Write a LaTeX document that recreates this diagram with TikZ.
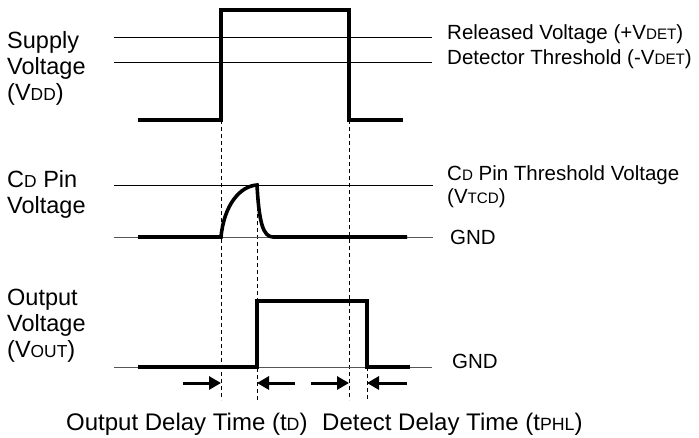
\documentclass[tikz,border=0pt]{standalone}
\usepackage{fontspec}
\setmainfont{Liberation Sans}
\usepackage{graphicx}
\usetikzlibrary{arrows.meta}
\definecolor{gndgray}{RGB}{85,85,85}
\newcommand\lo[1]{\scalebox{0.74}{#1}}
\tikzset{
  wave/.style={line width=3.6pt, line join=miter},
  level/.style={line width=1pt},
  gndlevel/.style={line width=1pt, gndgray},
  guide/.style={line width=0.8pt, dash pattern=on 4pt off 3pt},
  dim/.style={-{Triangle[length=12pt,width=13pt]}, line width=3pt},
  lbl/.style={inner sep=0pt, align=left, font=\fontsize{23.5}{26}\selectfont},
  rlbl/.style={inner sep=0pt, align=left, font=\fontsize{20.5}{23}\selectfont},
  blbl/.style={inner sep=0pt, font=\fontsize{24}{28}\selectfont},
}
\begin{document}
\begin{tikzpicture}[x=1pt,y=-1pt]
  \useasboundingbox (0,0) rectangle (699,437);
  % time marks
  \draw[guide] (221,120) -- (221,400);
  \draw[guide] (257,186) -- (257,400);
  \draw[guide] (349,120) -- (349,400);
  \draw[guide] (367,367) -- (367,400);
  % supply voltage
  \node[lbl,anchor=north west](vdd) at (7,31) {Supply\\Voltage\\(V\lo{DD})};
  \draw[level] (114,37) -- (432,37);
  \draw[level] (114,62) -- (432,62);
  \draw[wave] (138,120) -- (221,120) -- (221,10) -- (349,10) -- (349,120) -- (403,120);
  \node[rlbl,anchor=base west](rel) at (447,39) {Released Voltage (+V\lo{DET})};
  \node[rlbl,anchor=base west](det) at (447,64) {Detector Threshold (-V\lo{DET})};
  % CD pin voltage
  \node[lbl,anchor=north west](cdp) at (7,170) {C\lo{D} Pin\\Voltage};
  \draw[level] (114,185) -- (433,185);
  \draw[gndlevel] (114,237) -- (433,237);
  \draw[wave] (138,237) -- (221,237) .. controls (224,205) and (240,186) .. (257,185)
    .. controls (259,222) and (263,237) .. (273,237) -- (407,237);
  \node[rlbl,anchor=north west](tcd) at (447,165) {C\lo{D} Pin Threshold Voltage\\(V\lo{TCD})};
  \node[rlbl,anchor=base west](gnda) at (450,244) {GND};
  % output voltage
  \node[lbl,anchor=north west](vout) at (7,289) {Output\\Voltage\\(V\lo{OUT})};
  \draw[gndlevel] (114,367) -- (432,367);
  \draw[wave] (138,367) -- (257,367) -- (257,301) -- (367,301) -- (367,367) -- (410,367);
  \node[rlbl,anchor=base west](gndb) at (452,368) {GND};
  % delay arrows
  \coordinate (a1) at (183,383);
  \coordinate (b1) at (221,383);
  \coordinate (a2) at (295,383);
  \coordinate (b2) at (257,383);
  \coordinate (a3) at (311,383);
  \coordinate (b3) at (349,383);
  \coordinate (a4) at (407,383);
  \coordinate (b4) at (367,383);
  \draw[dim] (a1) -- (b1);
  \draw[dim] (a2) -- (b2);
  \draw[dim] (a3) -- (b3);
  \draw[dim] (a4) -- (b4);
  \node[blbl,anchor=base west](otd) at (66,430) {Output Delay Time (t\lo{D})};
  \node[blbl,anchor=base west](dtd) at (322,430) {Detect Delay Time (t\lo{PHL})};
\end{tikzpicture}
\end{document}
